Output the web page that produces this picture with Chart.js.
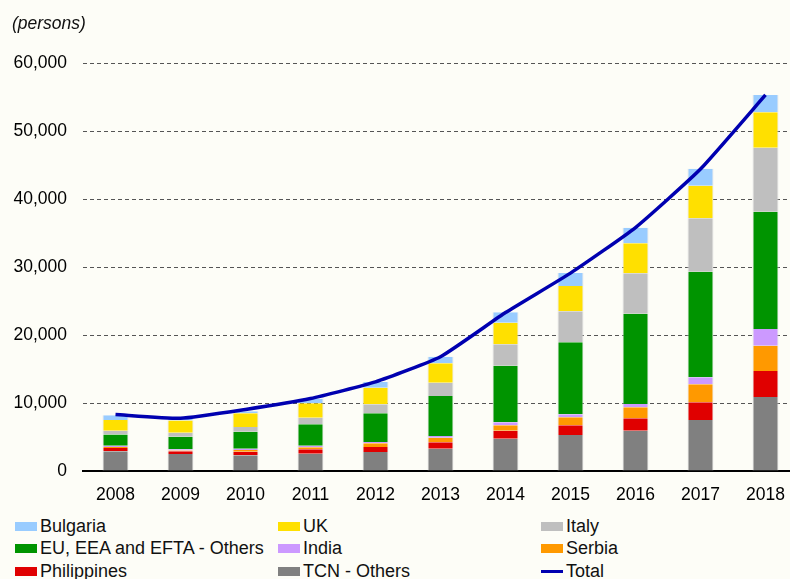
<!DOCTYPE html>
<html>
<head>
<meta charset="utf-8">
<script src="https://cdn.jsdelivr.net/npm/chart.js@4/dist/chart.umd.min.js"></script>
<style>
    body { margin: 0; background: #fdfdf7; overflow: hidden; font-family: 'Liberation Sans', Arial, sans-serif; }
    #wrap { position: relative; width: 790px; height: 579px; overflow: hidden; }
    #box { position: absolute; left: 0; top: 0; width: 800px; height: 510px; }
    #unit { position: absolute; left: 12px; top: 13px; font-size: 17.5px; font-style: italic; color: #111; }
    #legend { position: absolute; left: 0; top: 515px; width: 790px; }
    .item { position: absolute; display: flex; align-items: center; height: 22px; white-space: nowrap;
            font-family: 'Liberation Sans', Arial, sans-serif; font-size: 18px; color: #111; }
    .sw { width: 22px; height: 9px; margin-right: 3px; }
    .ln { width: 22px; height: 3px; margin-right: 3px; }
</style>
</head>
<body>
<div id="wrap">
    <div id="box"><canvas id="chart"></canvas></div>
    <div id="unit">(persons)</div>
    <div id="legend"></div>
</div>
<script>
const years = ['2008', '2009', '2010', '2011', '2012', '2013', '2014', '2015', '2016', '2017', '2018'];

const tcnOthers   = [2900, 2500, 2300, 2550, 2800, 3280, 4750, 5290, 5930, 7500, 10880];
const philippines = [480, 400, 530, 650, 740, 940, 1180, 1430, 1820, 2600, 3820];
const serbia      = [150, 100, 250, 300, 540, 680, 790, 1180, 1620, 2650, 3720];
const india       = [200, 200, 200, 200, 200, 250, 440, 440, 490, 1030, 2450];
const euOthers    = [1650, 1820, 2500, 3190, 4220, 5880, 8320, 10590, 13280, 15530, 17250];
const italy       = [540, 590, 690, 930, 1320, 1960, 3150, 4560, 5940, 7850, 9410];
const uk          = [1570, 1800, 2010, 2160, 2440, 2850, 3180, 3720, 4410, 4790, 5210];
const bulgaria    = [700, 300, 300, 630, 840, 970, 1530, 1910, 2290, 2500, 2540];
const total       = [8300, 7750, 9050, 10650, 13100, 16800, 23300, 29100, 35800, 44400, 55300];

const yTicks = [0, 10000, 20000, 30000, 40000, 50000, 60000];

const colors = {
    bulgaria: '#99ccff',
    uk: '#ffe000',
    italy: '#bfbfbf',
    eu: '#009400',
    india: '#cc99ff',
    serbia: '#ff9900',
    philippines: '#e00000',
    tcn: '#808080',
    total: '#0000b0'
};

function bar(label, data, color) {
    return {
        type: 'bar',
        label: label,
        data: data,
        backgroundColor: color,
        borderColor: 'rgba(225,225,225,0.9)',
        borderWidth: { left: 1, right: 1 },
        borderSkipped: false,
        stack: 'bars',
        order: 1,
        categoryPercentage: 0.8,
        barPercentage: 0.5
    };
}

// Stapelreihenfolge von unten nach oben
const datasets = [
    bar('TCN - Others', tcnOthers, colors.tcn),
    bar('Philippines', philippines, colors.philippines),
    bar('Serbia', serbia, colors.serbia),
    bar('India', india, colors.india),
    bar('EU, EEA and EFTA - Others', euOthers, colors.eu),
    bar('Italy', italy, colors.italy),
    bar('UK', uk, colors.uk),
    bar('Bulgaria', bulgaria, colors.bulgaria),
    {
        type: 'line',
        label: 'Total',
        data: total,
        borderColor: colors.total,
        backgroundColor: colors.total,
        borderWidth: 3.5,
        pointRadius: 0,
        tension: 0.15,
        stack: 'line',
        order: 0
    }
];

const ctx = document.getElementById('chart').getContext('2d');
const chart = new Chart(ctx, {
    type: 'bar',
    data: { labels: years, datasets: datasets },
    options: {
        responsive: true,
        maintainAspectRatio: false,
        animation: false,
        layout: { padding: { top: 63, left: 0, right: 2, bottom: 0 } },
        scales: {
            x: {
                stacked: true,
                grid: { display: false, drawTicks: false },
                border: { display: true, color: '#000', width: 2 },
                ticks: { color: '#000', font: { family: 'Liberation Sans', size: 17.5 }, padding: 14 },
                afterFit: function (scale) { scale.height = 39; }
            },
            y: {
                stacked: true,
                min: 0,
                max: 60000,
                afterBuildTicks: function (scale) { scale.ticks = yTicks.map(v => ({ value: v })); },
                grid: { color: '#555', lineWidth: 1, drawTicks: false },
                border: { display: false, dash: [4, 3] },
                ticks: {
                    color: '#000',
                    font: { family: 'Liberation Sans', size: 17.5 },
                    padding: 16,
                    callback: v => v.toLocaleString('en-US')
                },
                afterFit: function (scale) { scale.width = 83; }
            }
        },
        plugins: {
            legend: { display: false },
            tooltip: { enabled: false }
        }
    }
});

// Legende in drei Spalten wie im Original
const legendOrder = ['Bulgaria', 'UK', 'Italy', 'EU, EEA and EFTA - Others', 'India', 'Serbia', 'Philippines', 'TCN - Others', 'Total'];
const colX = [15, 278, 541];
const legend = document.getElementById('legend');
legendOrder.forEach((name, i) => {
    const ds = datasets.find(d => d.label === name);
    const item = document.createElement('div');
    item.className = 'item';
    item.style.left = colX[i % 3] + 'px';
    item.style.top = (Math.floor(i / 3) * 22.7) + 'px';
    const sw = document.createElement('span');
    sw.className = ds.type === 'line' ? 'ln' : 'sw';
    sw.style.background = ds.type === 'line' ? ds.borderColor : ds.backgroundColor;
    item.appendChild(sw);
    item.appendChild(document.createTextNode(name));
    legend.appendChild(item);
});
</script>
</body>
</html>
